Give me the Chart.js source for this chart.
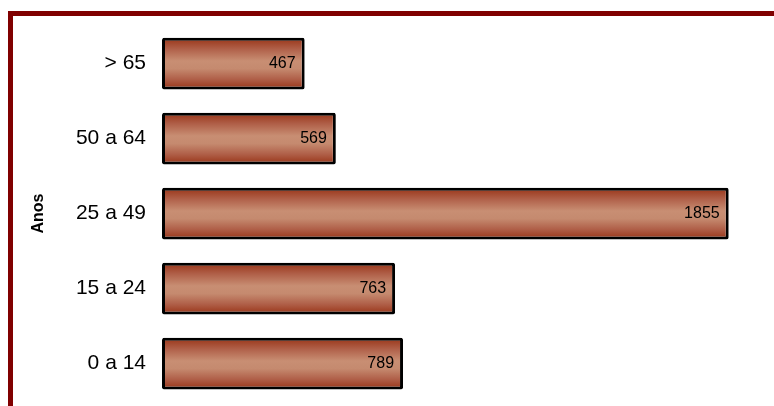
<!DOCTYPE html>
<html>
<head>
<meta charset="utf-8">
<script src="https://cdn.jsdelivr.net/npm/chart.js@4/dist/chart.umd.min.js"></script>
<style>
  html, body { margin: 0; padding: 0; background: #ffffff; }
  #wrap { position: relative; width: 774px; height: 406px; }
  #frame { position: absolute; left: 8px; top: 11px; width: 766px; height: 395px;
           box-sizing: border-box; border-top: 5px solid #800000; border-left: 5px solid #800000; pointer-events: none; }
  canvas { position: absolute; left: 0; top: 0; }
</style>
</head>
<body>
<div id="wrap">
  <canvas id="c" width="774" height="406"></canvas>
  <div id="frame"></div>
</div>
<script>
const categories = ['> 65', '50 a 64', '25 a 49', '15 a 24', '0 a 14'];
const values = [467, 569, 1855, 763, 789];
const axisTitle = 'Anos';
const axisMax = 2000;

const FONT = '"Liberation Sans", Arial, sans-serif';
const BAR_PCT = 0.69;

function barGradient(context) {
  const chart = context.chart;
  const area = chart.chartArea;
  if (!area) return '#b8705a';
  const yScale = chart.scales.y;
  const center = yScale.getPixelForValue(context.dataIndex);
  const slot = Math.abs(yScale.getPixelForValue(1) - yScale.getPixelForValue(0));
  const h = slot * BAR_PCT / 2;
  const g = chart.ctx.createLinearGradient(0, center - h, 0, center + h);
  g.addColorStop(0, '#983316');
  g.addColorStop(0.22, '#b06049');
  g.addColorStop(0.45, '#c88e73');
  g.addColorStop(0.6, '#c58a6f');
  g.addColorStop(0.8, '#b06049');
  g.addColorStop(1, '#983316');
  return g;
}

const valueLabels = {
  id: 'valueLabels',
  afterDatasetsDraw(chart) {
    const ctx = chart.ctx;
    const meta = chart.getDatasetMeta(0);
    ctx.save();
    ctx.font = '16px ' + FONT;
    ctx.fillStyle = '#000000';
    ctx.textAlign = 'right';
    ctx.textBaseline = 'middle';
    meta.data.forEach((el, i) => {
      ctx.fillText(String(values[i]), el.x - 9, el.y);
    });
    ctx.restore();
  }
};

new Chart(document.getElementById('c'), {
  type: 'bar',
  data: {
    labels: categories,
    datasets: [{
      data: values,
      backgroundColor: barGradient,
      borderColor: '#000000',
      borderWidth: 3,
      borderRadius: 2,
      borderSkipped: false,
      barPercentage: BAR_PCT,
      categoryPercentage: 1
    }]
  },
  options: {
    indexAxis: 'y',
    responsive: false,
    animation: false,
    layout: { padding: { left: 25, top: 26, bottom: 5, right: 1 } },
    plugins: { legend: { display: false }, tooltip: { enabled: false } },
    scales: {
      x: { display: false, min: 0, max: axisMax },
      y: {
        grid: { display: false, drawTicks: false },
        border: { display: false },
        ticks: { color: '#000000', padding: 16, font: { family: FONT, size: 21 } },
        title: { display: true, text: axisTitle, color: '#000000', padding: { top: 4, bottom: 4 },
                 font: { family: FONT, size: 16, weight: 'bold' } },
        afterFit(scale) { scale.width = 137; scale.paddingTop = 0; scale.paddingBottom = 0; }
      }
    }
  },
  plugins: [valueLabels]
});
</script>
</body>
</html>
